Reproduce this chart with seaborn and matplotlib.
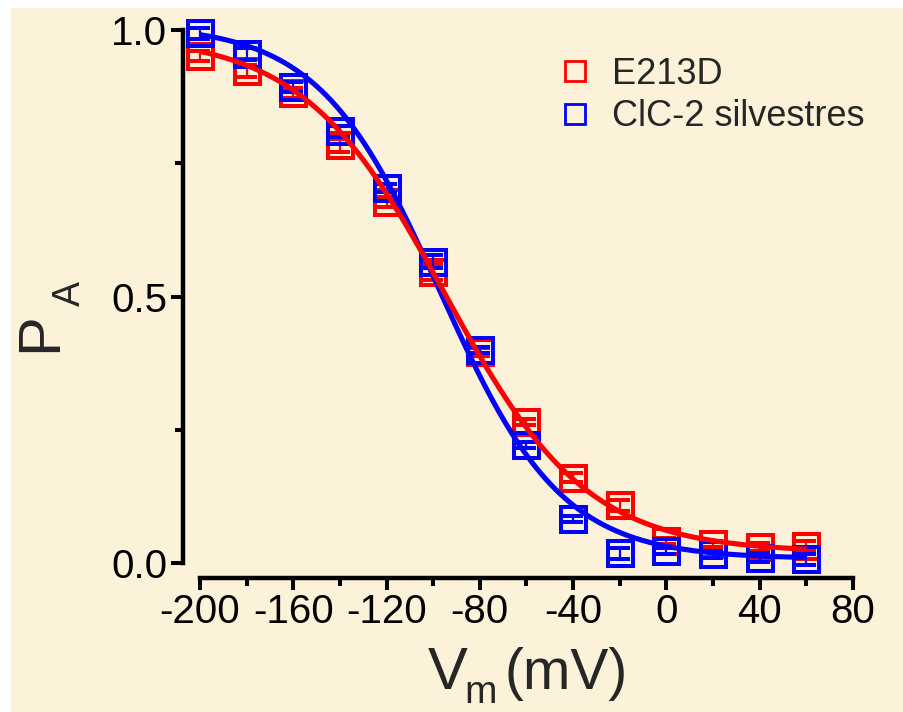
import numpy as np
import pandas as pd
import matplotlib
matplotlib.use("Agg")
import matplotlib.pyplot as plt
from matplotlib.lines import Line2D
from matplotlib.patches import Rectangle
from matplotlib.ticker import MultipleLocator, FixedLocator
import seaborn as sns

# ---------------- data ----------------
voltages = [-200, -180, -160, -140, -120, -100, -80, -60, -40, -20, 0, 20, 40, 60]
e213d_mean = [0.951, 0.923, 0.882, 0.784, 0.677, 0.546, 0.396, 0.264, 0.160, 0.108, 0.041, 0.036, 0.030, 0.032]
e213d_sem = [0.010, 0.012, 0.010, 0.012, 0.010, 0.015, 0.008, 0.006, 0.008, 0.010, 0.006, 0.006, 0.008, 0.010]
clc2_mean = [0.994, 0.955, 0.893, 0.810, 0.704, 0.565, 0.400, 0.221, 0.083, 0.018, 0.022, 0.016, 0.010, 0.007]
clc2_sem = [0.010, 0.012, 0.010, 0.010, 0.008, 0.012, 0.006, 0.006, 0.006, 0.010, 0.006, 0.006, 0.008, 0.010]

# Boltzmann fit parameters (Pmax, Pmin, V1/2, k)
e213d_fit = dict(pmax=0.99, pmin=0.02, vhalf=-95.0, k=30.5)
clc2_fit = dict(pmax=1.01, pmin=0.008, vhalf=-97.0, k=26.0)

series_names = ["E213D", "ClC-2 silvestres"]
series_colors = ["#FF0000", "#0000FF"]
x_ticks = [-200, -160, -120, -80, -40, 0, 40, 80]
y_ticks = [0.0, 0.5, 1.0]
y_ticklabels = ["0.0", "0.5", "1.0"]

# ---------------- style ----------------
sns.set_style("ticks")
plt.rcParams["font.family"] = ["Liberation Sans", "DejaVu Sans"]

cream = "#FCF2D9"
W, H = 904, 712
fig = plt.figure(figsize=(W / 100, H / 100), dpi=100, facecolor=cream)
fig.patches.append(Rectangle((0, 0), 11 / W, 1, transform=fig.transFigure,
                             facecolor="white", edgecolor="none", zorder=-10))
fig.patches.append(Rectangle((0, 1 - 8 / H), 1, 8 / H, transform=fig.transFigure,
                             facecolor="white", edgecolor="none", zorder=-10))

ax = fig.add_axes([200 / W, (H - 563) / H, 653 / W, 533 / H])
ax.set_facecolor("none")


def boltz(v, pmax, pmin, vhalf, k):
    v = np.asarray(v, dtype=float)
    return pmin + (pmax - pmin) / (1.0 + np.exp((v - vhalf) / k))


vgrid = np.linspace(voltages[0], voltages[-1], 400)

# points with error bars
for mean, sem, col, z in [(e213d_mean, e213d_sem, series_colors[0], 3),
                          (clc2_mean, clc2_sem, series_colors[1], 4)]:
    ax.errorbar(voltages, mean, yerr=sem, fmt="s", ms=18, mfc="none", mec=col,
                mew=2.9, ecolor=col, elinewidth=1.6, capsize=7, capthick=1.6,
                color=col, clip_on=False, zorder=z)

# fit curves via seaborn
fit_df = pd.DataFrame({
    "V": np.concatenate([vgrid, vgrid]),
    "P": np.concatenate([boltz(vgrid, **clc2_fit), boltz(vgrid, **e213d_fit)]),
    "series": [series_names[1]] * len(vgrid) + [series_names[0]] * len(vgrid),
})
sns.lineplot(data=fit_df[fit_df.series == series_names[1]], x="V", y="P",
             color=series_colors[1], linewidth=3.7, ax=ax, legend=False, zorder=5)
sns.lineplot(data=fit_df[fit_df.series == series_names[0]], x="V", y="P",
             color=series_colors[0], linewidth=3.7, ax=ax, legend=False, zorder=6)
for ln in ax.lines[-2:]:
    ln.set_clip_on(False)
    ln.set_solid_capstyle("butt")

# axes
ax.set_xlim(-200, 80)
ax.set_ylim(0, 1)
ax.set_xlabel("")
ax.set_ylabel("")
for s in ["top", "right"]:
    ax.spines[s].set_visible(False)
ax.spines["left"].set_position(("outward", 12.2))
ax.spines["bottom"].set_position(("outward", 10.8))
for s in ["left", "bottom"]:
    ax.spines[s].set_linewidth(3.2)
    ax.spines[s].set_color("black")
    ax.spines[s].set_capstyle("projecting")

ax.xaxis.set_major_locator(FixedLocator(x_ticks))
ax.xaxis.set_minor_locator(MultipleLocator(20))
ax.yaxis.set_major_locator(FixedLocator(y_ticks))
ax.yaxis.set_minor_locator(FixedLocator([0.25, 0.75]))
ax.set_xticklabels([str(t) for t in x_ticks])
ax.set_yticklabels(y_ticklabels)
ax.tick_params(which="major", length=8.5, width=2.9, color="black",
               labelsize=29, labelcolor="black")
ax.tick_params(which="minor", length=5.5, width=2.9, color="black")
ax.tick_params(axis="x", which="major", pad=2)
ax.tick_params(axis="y", which="major", pad=3)

# axis labels (main letters + subscripts as separate text pieces)
def px(x, y):
    return x / W, 1 - y / H

fig.text(*px(428, 689), "V", fontsize=43, ha="left", va="baseline")
fig.text(*px(464, 703), "m", fontsize=28, ha="left", va="baseline")
fig.text(*px(505, 689), "(mV)", fontsize=41, ha="left", va="baseline")

fig.text(*px(56, 352), "P", fontsize=43, rotation=90, rotation_mode="anchor",
         ha="left", va="baseline")
fig.text(*px(80, 306), "A", fontsize=27, rotation=90, rotation_mode="anchor",
         ha="left", va="baseline")

# legend
handles = [Line2D([], [], linestyle="none", marker="s", ms=14, mfc="none",
                  mec=c, mew=2.0) for c in series_colors]
ax.legend(handles, series_names, loc="upper left",
          bbox_to_anchor=(557 / W, 1 - 57 / H), bbox_transform=fig.transFigure,
          frameon=False, fontsize=26, handlelength=1.0, handletextpad=0.53,
          borderpad=0, borderaxespad=0, labelspacing=0.2)

fig.savefig("out.png", dpi=100, facecolor=cream)
